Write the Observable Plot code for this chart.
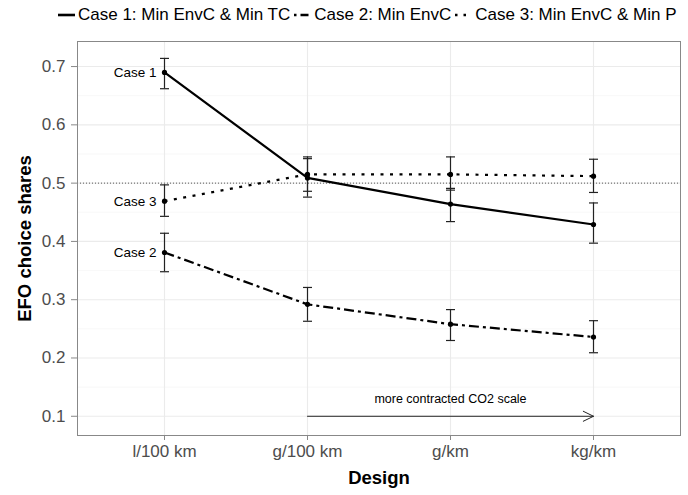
<!DOCTYPE html>
<html><head><meta charset="utf-8">
<script src="https://cdn.jsdelivr.net/npm/d3@7"></script>
<script src="https://cdn.jsdelivr.net/npm/@observablehq/plot@0.6"></script>
<style>
body{margin:0;background:#fff;font-family:"Liberation Sans",Arial,sans-serif;}
#legend{height:30px;white-space:nowrap;overflow:hidden;width:688px;padding-left:58px;box-sizing:border-box;font-size:17px;color:#000;line-height:30px;}
#legend span.item{display:inline-block;}
#legend svg{vertical-align:middle;margin-right:3px;position:relative;top:-1px;}
g[aria-label="y-axis label"] text, g[aria-label="x-axis label"] text{font-weight:bold;font-size:18.5px;fill:#000;}
g[aria-label="y-axis tick label"] text, g[aria-label="x-axis tick label"] text{fill:#4d4d4d;}
</style></head>
<body>
<div id="legend"></div>
<div id="chart"></div>
<script>
const designs = ["l/100 km", "g/100 km", "g/km", "kg/km"];
const cases = ["Case 1", "Case 2", "Case 3"];
const legendLabels = ["Case 1: Min EnvC & Min TC", "Case 2: Min EnvC", "Case 3: Min EnvC & Min P"];
const case1 = [0.690, 0.509, 0.464, 0.429];
const case1Lo = [0.662, 0.476, 0.434, 0.397];
const case1Hi = [0.714, 0.542, 0.491, 0.466];
const case2 = [0.381, 0.292, 0.258, 0.236];
const case2Lo = [0.348, 0.263, 0.230, 0.209];
const case2Hi = [0.414, 0.321, 0.283, 0.264];
const case3 = [0.469, 0.515, 0.515, 0.512];
const case3Lo = [0.443, 0.486, 0.488, 0.484];
const case3Hi = [0.497, 0.545, 0.545, 0.541];
const yTicks = [0.1, 0.2, 0.3, 0.4, 0.5, 0.6, 0.7];
const yMinor = [0.15, 0.25, 0.35, 0.45, 0.55, 0.65];
const refLine = 0.5;
const arrowFrom = "g/100 km", arrowTo = "kg/km", arrowY = 0.1;
const arrowText = "more contracted CO2 scale", arrowTextX = "g/km", arrowTextY = 0.13;

const dashes = {"Case 1": null, "Case 2": "10,4,3,4", "Case 3": "3,6.5"};
const series = [[case1, case1Lo, case1Hi], [case2, case2Lo, case2Hi], [case3, case3Lo, case3Hi]];
const data = [];
cases.forEach((c, i) => designs.forEach((d, j) => data.push({
  caseName: c, design: d, v: series[i][0][j], lo: series[i][1][j], hi: series[i][2][j]
})));

// legend
const leg = document.getElementById("legend");
const legDash = ["", "2.5,4,8,4", "2.5,6"];
legendLabels.forEach((t, i) => {
  const s = document.createElement("span");
  s.className = "item";
  s.innerHTML = `<svg width="17" height="10"><line x1="0" x2="17" y1="5" y2="5" stroke="#000" stroke-width="2.6" ${legDash[i] ? `stroke-dasharray="${legDash[i]}"` : ""}/></svg>${t}`;
  s.style.marginRight = "4px";
  leg.appendChild(s);
});

const capSymbol = {draw(ctx, size) { const w = Math.sqrt(size / Math.PI); ctx.moveTo(-w, 0); ctx.lineTo(w, 0); }};

const chart = Plot.plot({
  width: 688, height: 465,
  marginLeft: 77, marginRight: 8, marginTop: 11, marginBottom: 60,
  style: {fontFamily: '"Liberation Sans", Arial, sans-serif', background: "#fff"},
  x: {type: "point", domain: designs, padding: 0.6},
  y: {domain: [0.067, 0.743]},
  marks: [
    Plot.ruleY(yMinor, {stroke: "#f3f3f3", strokeWidth: 0.6}),
    Plot.ruleY(yTicks, {stroke: "#ebebeb", strokeWidth: 1.1}),
    Plot.ruleX(designs, {stroke: "#ebebeb", strokeWidth: 1.1}),
    Plot.ruleY([refLine], {stroke: "#333", strokeWidth: 0.8, strokeDasharray: "1,2"}),
    Plot.frame({stroke: "#888", strokeWidth: 1}),
    Plot.axisY({ticks: yTicks, tickFormat: d3.format(".1f"), fontSize: 17, tickSize: 6, tickPadding: 6, stroke: "#888",
      label: "EFO choice shares", labelAnchor: "center", labelOffset: 60, labelArrow: "none"}),
    Plot.axisX({fontSize: 17, tickSize: 5, tickPadding: 4, stroke: "#888",
      label: "Design", labelAnchor: "center", labelOffset: 48, labelArrow: "none"}),
    ...cases.map(c => Plot.line(data.filter(d => d.caseName === c), {x: "design", y: "v", stroke: "#000", strokeWidth: 2.2, strokeDasharray: dashes[c], strokeLinecap: "butt"})),
    Plot.ruleX(data, {x: "design", y1: "lo", y2: "hi", stroke: "#222", strokeWidth: 1.2}),
    Plot.dot(data, {x: "design", y: "lo", symbol: capSymbol, r: 4.5, stroke: "#222", strokeWidth: 1.2, fill: "none"}),
    Plot.dot(data, {x: "design", y: "hi", symbol: capSymbol, r: 4.5, stroke: "#222", strokeWidth: 1.2, fill: "none"}),
    Plot.dot(data, {x: "design", y: "v", r: 2.6, fill: "#000"}),
    Plot.text(data.filter(d => d.design === designs[0]), {x: "design", y: "v", text: "caseName", textAnchor: "end", dx: -8, fontSize: 13.5, fill: "#000"}),
    Plot.arrow([{x1: arrowFrom, x2: arrowTo, y: arrowY}], {x1: "x1", x2: "x2", y1: "y", y2: "y", stroke: "#222", strokeWidth: 1, headLength: 17, headAngle: 52, bend: 0}),
    Plot.text([{x: arrowTextX, y: arrowTextY, t: arrowText}], {x: "x", y: "y", text: "t", fontSize: 12.5, fill: "#000"})
  ]
});
document.getElementById("chart").appendChild(chart);
</script>
</body></html>
